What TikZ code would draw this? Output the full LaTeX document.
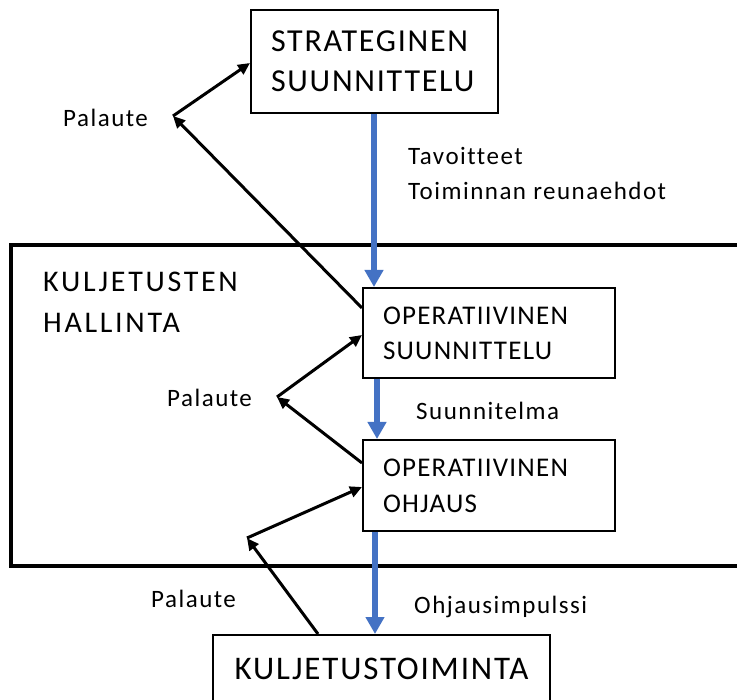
\documentclass[tikz,border=0pt]{standalone}
\usepackage{fontspec}
\setmainfont{Carlito}
\newfontfamily\fsmall[LetterSpace=6,Ligatures=NoCommon]{Carlito}
\newfontfamily\fop[LetterSpace=4.6,Ligatures=NoCommon]{Carlito}
\newfontfamily\fbig[LetterSpace=5.5,Ligatures=NoCommon]{Carlito}
\newfontfamily\fkh[LetterSpace=9,Ligatures=NoCommon]{Carlito}
\usetikzlibrary{arrows.meta,calc}
\definecolor{flowblue}{HTML}{4472C4}
\begin{document}
\begin{tikzpicture}[x=1pt,y=-1pt,
  box/.style={draw=black,line width=2pt,anchor=north west,inner ysep=0pt,align=left},
  flow/.style={draw=flowblue,line width=5.5pt,-{Triangle[length=17pt,width=18pt]}},
  fb/.style={draw=black,line width=3pt,-{Triangle[length=12pt,width=11pt]}},
  lab/.style={inner sep=0pt,font=\fsmall\fontsize{25}{35}\selectfont}]
\useasboundingbox (0,0) rectangle (737,700);
\clip (0,0) rectangle (737,700);
\fill[white] (0,0) rectangle (737,700);
% management frame
\draw[line width=3.5pt] (11,245) rectangle (780,566);
\node[inner sep=0pt,anchor=west,align=left,font=\fkh\fontsize{30}{41}\selectfont] (kh) at (43,302.5) {KULJETUSTEN\\HALLINTA};
% boxes
\node[box,minimum width=247pt,minimum height=103pt,text width=207pt,inner xsep=20pt,
  font=\fbig\fontsize{32}{40}\selectfont] (strat) at (250,9) {STRATEGINEN\\SUUNNITTELU};
\node[box,minimum width=252pt,minimum height=90pt,text width=212pt,inner xsep=20pt,
  font=\fop\fontsize{27}{35}\selectfont] (op1) at (362,287) {OPERATIIVINEN\\SUUNNITTELU};
\node[box,minimum width=252pt,minimum height=91pt,text width=212pt,inner xsep=20pt,
  font=\fop\fontsize{27}{36}\selectfont] (op2) at (362,439) {OPERATIIVINEN\\OHJAUS};
\node[box,align=center,minimum width=337pt,minimum height=68pt,text width=297pt,inner xsep=20pt,
  font=\fbig\fontsize{33}{40}\selectfont] (kt) at (212,634) {KULJETUSTOIMINTA};
% labels
\node[lab,anchor=west,align=left] (tv) at (408,173.5) {Tavoitteet\\Toiminnan reunaehdot};
\node[lab,anchor=base west] (sl) at (416,420) {Suunnitelma};
\node[lab,anchor=base west] (oi) at (414,613) {Ohjausimpulssi};
\node[lab,anchor=base west] (p1) at (63,127) {Palaute};
\node[lab,anchor=base west] (p2) at (167,407) {Palaute};
\node[lab,anchor=base west] (p3) at (151,608) {Palaute};
% blue flow arrows
\coordinate (x1) at (374,0);
\coordinate (x2) at (377,0);
\coordinate (x3) at (375,0);
\draw[flow] (strat.south -| x1) -- (op1.north -| x1);
\draw[flow] (op1.south -| x2) -- (op2.north -| x2);
\draw[flow] (op2.south -| x3) -- (kt.north -| x3);
% feedback arrows
\coordinate (v1) at (173,116);
\coordinate (v2) at (277,397);
\coordinate (v3) at (247,538);
\draw[fb] ($(op1.north west)+(0,21)$) -- (v1);
\draw[fb] (v1) -- ($(strat.north west)+(0,54)$);
\draw[fb] ($(op2.north west)+(0,24)$) -- (v2);
\draw[fb] (v2) -- ($(op1.north west)+(0,48)$);
\draw[fb] ($(kt.north west)+(106,0)$) -- (v3);
\draw[fb] (v3) -- ($(op2.north west)+(0,48)$);
\end{tikzpicture}
\end{document}
